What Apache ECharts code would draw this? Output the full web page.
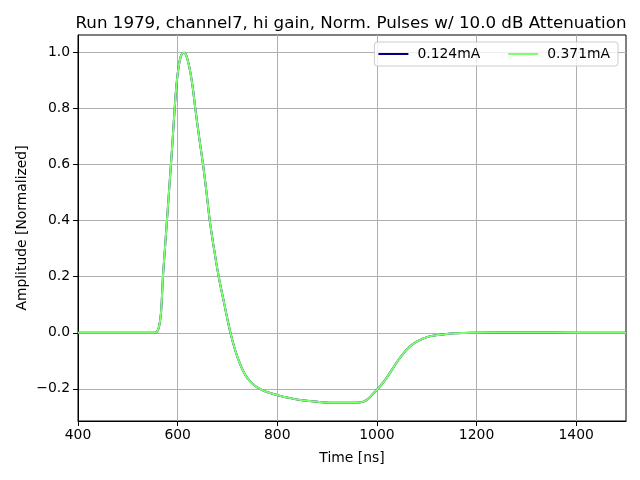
<!DOCTYPE html>
<html>
<head>
<meta charset="utf-8">
<script src="https://cdn.jsdelivr.net/npm/echarts@6/dist/echarts.min.js"></script>
<style>html,body{margin:0;padding:0;background:#fff}#c{width:640px;height:480px}</style>
</head>
<body>
<div id="c"></div>
<script>
const seriesNames = ['0.124mA', '0.371mA'];
const timeNs = [400, 500, 550, 556, 560, 563, 566, 568, 570.5, 574.5, 578.5, 582.5, 586.5, 590, 594, 598, 602, 606, 610, 613, 616, 620, 625, 630, 635.5, 643, 651, 658, 664.5, 673, 682.5, 694, 706, 716, 726, 735, 743, 755, 770, 785, 801, 817, 850, 884, 918, 951, 965, 973, 979, 985, 991, 1002, 1015, 1028, 1042, 1055, 1065, 1075, 1085, 1095, 1108, 1122, 1140, 1156, 1190, 1250, 1300, 1400, 1500];
const ampLow = [0, 0, 0, 0.001, 0.008, 0.025, 0.06, 0.11, 0.2, 0.3, 0.4, 0.5, 0.6, 0.69, 0.8, 0.89, 0.95, 0.985, 0.999, 1.0, 0.995, 0.975, 0.935, 0.88, 0.8, 0.7, 0.6, 0.5, 0.4, 0.3, 0.2, 0.1, 0.0, -0.065, -0.115, -0.148, -0.168, -0.189, -0.205, -0.215, -0.223, -0.23, -0.241, -0.247, -0.25, -0.25, -0.249, -0.246, -0.24, -0.232, -0.22, -0.2, -0.172, -0.138, -0.1, -0.07, -0.051, -0.037, -0.027, -0.019, -0.012, -0.008, -0.004, -0.002, 0.0, 0.001, 0.001, 0.0, 0.0];
const ampHigh = [0, 0, 0, 0.001, 0.008, 0.025, 0.06, 0.11, 0.2, 0.3, 0.4, 0.5, 0.6, 0.69, 0.8, 0.89, 0.95, 0.985, 0.999, 1.0, 0.995, 0.975, 0.935, 0.88, 0.8, 0.7, 0.6, 0.5, 0.4, 0.3, 0.2, 0.1, 0.0, -0.065, -0.115, -0.148, -0.168, -0.189, -0.205, -0.215, -0.223, -0.23, -0.241, -0.247, -0.25, -0.25, -0.249, -0.246, -0.24, -0.232, -0.22, -0.2, -0.172, -0.138, -0.1, -0.07, -0.051, -0.037, -0.027, -0.019, -0.012, -0.008, -0.004, -0.002, 0.0, 0.001, 0.001, 0.0, 0.0];
const xTicks = [400, 600, 800, 1000, 1200, 1400];
const yTicks = [-0.2, 0.0, 0.2, 0.4, 0.6, 0.8, 1.0];
const titleText = 'Run 1979, channel7, hi gain, Norm. Pulses w/ 10.0 dB Attenuation';
const xName = 'Time [ns]';
const yName = 'Amplitude [Normalized]';

const colors = ['#000080', '#7dff6e'];
const font = 'DejaVu Sans';
const chart = echarts.init(document.getElementById('c'), null, {renderer: 'canvas'});
const pair = (ys) => timeNs.map((t, i) => [t, ys[i]]);

chart.setOption({
  animation: false,
  backgroundColor: '#fff',
  title: {
    text: titleText, left: 346, top: 10, textAlign: 'center',
    textStyle: {fontFamily: font, fontSize: 16.7, fontWeight: 'normal', color: '#000'}
  },
  legend: {
    right: 22, top: 42, orient: 'horizontal',
    itemWidth: 30, itemHeight: 2, itemGap: 28,
    padding: [5, 8, 5, 4],
    backgroundColor: 'rgba(255,255,255,0.8)', borderColor: '#cccccc', borderWidth: 1, borderRadius: 3,
    textStyle: {fontFamily: font, fontSize: 13.9, color: '#000', padding: [0, 0, 0, 4]},
    icon: 'rect',
    data: seriesNames.map((n, i) => ({name: n, itemStyle: {color: colors[i]}}))
  },
  grid: {left: 78, right: 14, top: 35, bottom: 59, show: true, borderColor: '#000', borderWidth: 1, backgroundColor: 'transparent'},
  xAxis: {
    type: 'value', min: 400, max: 1500,
    name: xName, nameLocation: 'middle', nameGap: 30,
    nameTextStyle: {fontFamily: font, fontSize: 13.9, color: '#000'},
    axisLine: {show: true, onZero: false, lineStyle: {color: '#000', width: 1}},
    axisTick: {show: true, inside: false, length: 5, lineStyle: {color: '#000', width: 1}, customValues: xTicks},
    axisLabel: {fontFamily: font, fontSize: 13.9, color: '#000', margin: 7, customValues: xTicks, formatter: v => String(v)},
    splitLine: {show: true, lineStyle: {color: '#b0b0b0', width: 1}}
  },
  yAxis: {
    type: 'value', min: -0.315, max: 1.063,
    name: yName, nameLocation: 'middle', nameGap: 49, nameRotate: 90, nameMoveOverlap: false,
    nameTextStyle: {fontFamily: font, fontSize: 13.9, color: '#000'},
    axisLine: {show: true, onZero: false, lineStyle: {color: '#000', width: 1}},
    axisTick: {show: true, inside: false, length: 5, lineStyle: {color: '#000', width: 1}, customValues: yTicks},
    axisLabel: {fontFamily: font, fontSize: 13.9, color: '#000', margin: 8, customValues: yTicks, formatter: v => v.toFixed(1).replace('-', '\u2212')},
    splitLine: {show: true, lineStyle: {color: '#b0b0b0', width: 1}}
  },
  series: [
    {name: seriesNames[0], type: 'line', data: pair(ampLow), showSymbol: false, smooth: 0.4, lineStyle: {color: colors[0], width: 2}, itemStyle: {color: colors[0]}, z: 2},
    {name: seriesNames[1], type: 'line', data: pair(ampHigh), showSymbol: false, smooth: 0.4, lineStyle: {color: colors[1], width: 2}, itemStyle: {color: colors[1]}, z: 3}
  ]
});
</script>
</body>
</html>
